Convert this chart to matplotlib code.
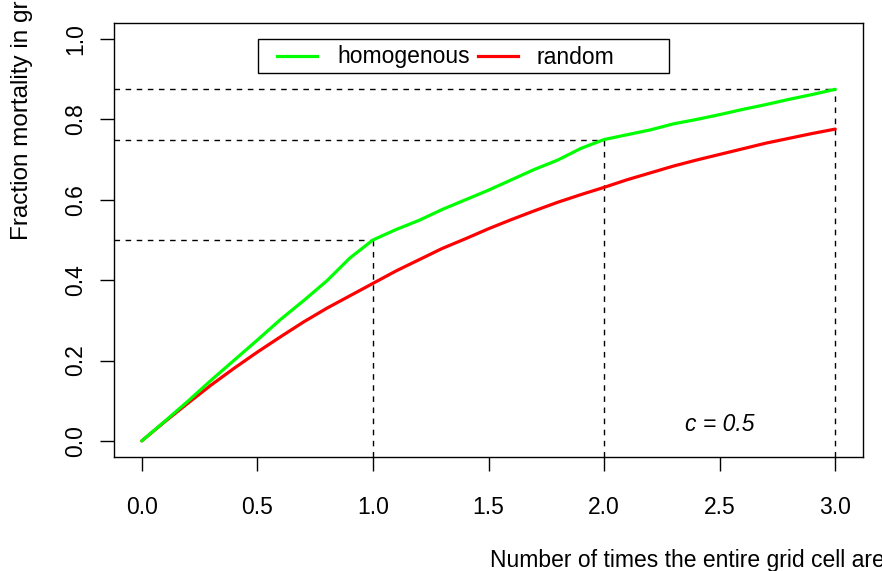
import matplotlib
matplotlib.use("Agg")
import matplotlib.pyplot as plt
from matplotlib.patches import Rectangle
from matplotlib.lines import Line2D

plt.rcParams['font.family'] = ['Liberation Sans', 'DejaVu Sans']

# Data
x_vals = [0.0, 0.1, 0.2, 0.3, 0.4, 0.5, 0.6, 0.7, 0.8, 0.9, 1.0,
          1.1, 1.2, 1.3, 1.4, 1.5, 1.6, 1.7, 1.8, 1.9, 2.0,
          2.1, 2.2, 2.3, 2.4, 2.5, 2.6, 2.7, 2.8, 2.9, 3.0]
homogenous = [0.000, 0.049, 0.099, 0.151, 0.201, 0.251, 0.302, 0.349, 0.398, 0.455, 0.500,
              0.526, 0.549, 0.576, 0.600, 0.624, 0.650, 0.676, 0.699, 0.728, 0.750,
              0.762, 0.774, 0.789, 0.800, 0.812, 0.825, 0.837, 0.850, 0.862, 0.875]
random_ = [0.000, 0.048, 0.094, 0.139, 0.181, 0.221, 0.259, 0.296, 0.330, 0.361, 0.392,
           0.423, 0.451, 0.479, 0.503, 0.528, 0.551, 0.573, 0.594, 0.613, 0.631,
           0.650, 0.667, 0.684, 0.699, 0.713, 0.727, 0.741, 0.753, 0.765, 0.776]
ref_x = [1.0, 2.0, 3.0]
ref_y = [0.5, 0.75, 0.875]
x_ticks = [0.0, 0.5, 1.0, 1.5, 2.0, 2.5, 3.0]
y_ticks = [0.0, 0.2, 0.4, 0.6, 0.8, 1.0]
series_names = ['homogenous', 'random']
series_colors = ['#00ff00', '#ff0000']

W, H = 882, 571
fig = plt.figure(figsize=(W/100, H/100), dpi=100)
ax = fig.add_axes([114/W, 1-457/H, (863-114)/W, (457-23)/H])
ax.set_xlim(-0.12, 3.12)
ax.set_ylim(-0.04, 1.04)

fs = 16.5
# reference dashed lines
for xr, yr in zip(ref_x, ref_y):
    ax.plot([-0.12, xr], [yr, yr], color='black', lw=1, ls=(0, (4, 4)))
    ax.plot([xr, xr], [-0.04, yr], color='black', lw=1, ls=(0, (4, 4)))

ax.plot(x_vals, random_, color=series_colors[1], lw=2.3, solid_capstyle='round')
ax.plot(x_vals, homogenous, color=series_colors[0], lw=2.3, solid_capstyle='round')

ax.text(2.5, 0.04, 'c = 0.5', fontsize=fs, style='italic', ha='center', va='center')

ax.set_xticks(x_ticks)
ax.set_xticklabels([f'{v:.1f}' for v in x_ticks], fontsize=fs)
ax.set_yticks(y_ticks)
ax.set_yticklabels([f'{v:.1f}' for v in y_ticks], fontsize=fs, rotation=90, va='center')
ax.tick_params(axis='x', length=10, width=1, pad=18)
ax.tick_params(axis='y', length=10, width=1, pad=9)
for s in ax.spines.values():
    s.set_linewidth(1)

# legend (R-style box)
def fx(px):
    return px / W
def fy(py):
    return 1 - py / H
fig.add_artist(Rectangle((fx(258), fy(73)), fx(669) - fx(258), fy(39) - fy(73),
                         transform=fig.transFigure, fill=True, facecolor='white',
                         edgecolor='black', lw=1, zorder=5))
leg_line_x = [(277, 317), (478, 518)]
leg_text_x = [337, 537]
for name, col, (x0, x1), tx in zip(series_names, series_colors, leg_line_x, leg_text_x):
    fig.add_artist(Line2D([fx(x0), fx(x1)], [fy(56), fy(56)], color=col, lw=2.3,
                          transform=fig.transFigure, zorder=6))
    fig.text(fx(tx), fy(57), name, fontsize=fs, ha='left', va='center', zorder=6)

fig.text(22/W, 1-240/H, 'Fraction mortality in grid cell', rotation=90,
         fontsize=17.5, ha='center', va='bottom')
fig.text(490/W, 1-567/H, 'Number of times the entire grid cell area is disturbed',
         fontsize=fs, ha='left', va='baseline')

fig.savefig('out.png', dpi=100)
